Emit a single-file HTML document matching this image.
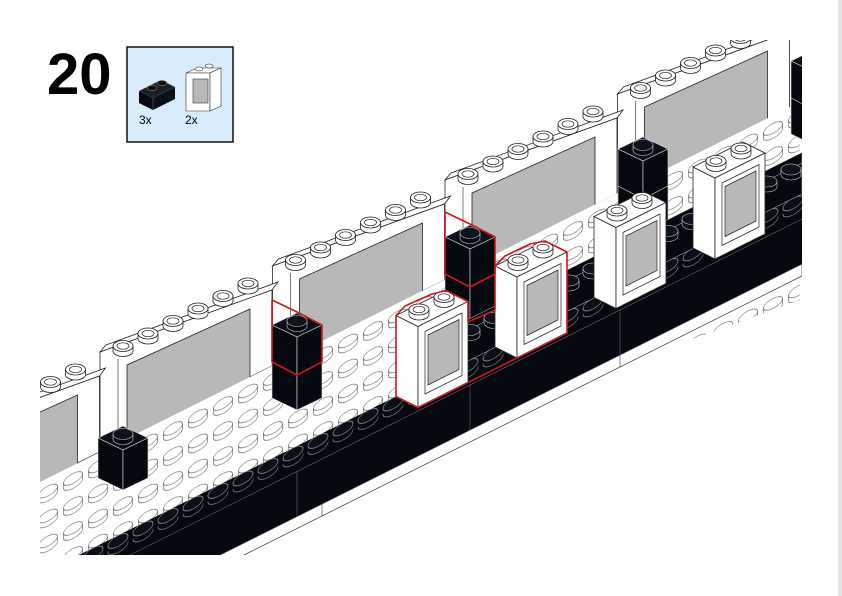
<!DOCTYPE html>
<html><head><meta charset="utf-8"><style>
html,body{margin:0;padding:0;background:#fff;width:842px;height:596px;overflow:hidden;}
svg{display:block;}
</style></head><body>
<svg width="842" height="596" viewBox="0 0 842 596" xmlns="http://www.w3.org/2000/svg">
<defs>
<clipPath id="clip"><rect x="40" y="40" width="762" height="515"/></clipPath>
<pattern id="floor" patternUnits="userSpaceOnUse" x="260.5" y="531" width="25" height="25" patternTransform="skewY(-26.57)">
<rect width="25" height="25" fill="#fff"/>
<ellipse cx="12.5" cy="14" rx="9.5" ry="5" fill="#fff" stroke="#444" stroke-width="0.55"/>
<rect x="3" y="9" width="19" height="5" fill="#fff"/>
<line x1="3" y1="9" x2="3" y2="14" stroke="#444" stroke-width="0.55"/>
<line x1="22" y1="9" x2="22" y2="14" stroke="#444" stroke-width="0.55"/>
<ellipse cx="12.5" cy="9" rx="9.5" ry="5" fill="#fff" stroke="#444" stroke-width="0.55"/>
</pattern>
<pattern id="bstud" patternUnits="userSpaceOnUse" x="280.5" y="591" width="25" height="1000" patternTransform="skewY(-26.57)">
<ellipse cx="12.5" cy="15" rx="10" ry="5.5" fill="#05080f" stroke="#aaa" stroke-width="0.6"/>
<rect x="2.5" y="9" width="20" height="6" fill="#05080f"/>
<ellipse cx="12.5" cy="9" rx="10" ry="5.5" fill="#0b1018" stroke="#bbb" stroke-width="0.6"/>
</pattern>
<g id="stud">
<path d="M-10,0 v5 a10,5.5 0 0 0 20,0 v-5" fill="#fff" stroke="#222" stroke-width="0.8"/>
<ellipse cx="0" cy="0" rx="10" ry="5.5" fill="#fff" stroke="#222" stroke-width="0.8"/>
<ellipse cx="0" cy="0" rx="6" ry="3.2" fill="#fff" stroke="#222" stroke-width="0.7"/>
</g>
<g id="bk">
<path d="M-10,0 v5 a10,5.5 0 0 0 20,0 v-5" fill="#05080f" stroke="#ccc" stroke-width="0.6"/>
<ellipse cx="0" cy="0" rx="10" ry="5.5" fill="#0d131c" stroke="#ccc" stroke-width="0.6"/>
</g>
<g id="frame">
<polygon points="0,0 172,-62 178,-70 6,-7" fill="#fff" stroke="#222" stroke-width="0.8"/>
<polygon points="0,0 172,-62 172,14 0,100" fill="#fff" stroke="#222" stroke-width="0.8"/>
<polygon points="27,13 150,-43 150,55 27,116" fill="#b8b8b8" stroke="#222" stroke-width="0.8"/>
<line x1="18" y1="7" x2="18" y2="110" stroke="#222" stroke-width="0.6"/>
<use href="#stud" x="23" y="-6"/><use href="#stud" x="48" y="-18.5"/><use href="#stud" x="73" y="-31"/>
<use href="#stud" x="98" y="-43.5"/><use href="#stud" x="123" y="-56"/><use href="#stud" x="148" y="-68.5"/>
</g>
<g id="col2">
<polygon points="-25,0 0,12 25,0 0,-12" fill="#0b1018" stroke="#ddd" stroke-width="0.6"/>
<polygon points="-25,0 0,12 0,85 -25,73" fill="#05080f" stroke="#ddd" stroke-width="0.6"/>
<polygon points="0,12 25,0 25,73 0,85" fill="#05080f" stroke="#ddd" stroke-width="0.6"/>
<polyline points="-25,37 0,50 25,37" fill="none" stroke="#ddd" stroke-width="0.6"/>
<use href="#bk" x="0" y="-4"/>
</g>
<g id="col1">
<polygon points="-25,0 0,12 25,0 0,-12" fill="#0b1018" stroke="#ddd" stroke-width="0.6"/>
<polygon points="-25,0 0,12 0,52 -25,40" fill="#05080f" stroke="#ddd" stroke-width="0.6"/>
<polygon points="0,12 25,0 25,40 0,52" fill="#05080f" stroke="#ddd" stroke-width="0.6"/>
<use href="#bk" x="0" y="-4"/>
</g>
<g id="win">
<polygon points="495,266 517,277 517,358 495,347" fill="#fff" stroke="#222" stroke-width="0.8"/>
<polygon points="495,266 517,277 567,252 545,241" fill="#fff" stroke="#222" stroke-width="0.8"/>
<polygon points="517,277 567,252 567,333 517,358" fill="#fff" stroke="#222" stroke-width="0.8"/>
<polygon points="524,282 561,263.5 561,326 524,344.5" fill="#fff" stroke="#222" stroke-width="0.7"/>
<polygon points="527,285.5 558,270 558,320 527,335.5" fill="#b8b8b8" stroke="#222" stroke-width="0.7"/>
<use href="#stud" x="518" y="260"/><use href="#stud" x="543" y="247.5"/>
</g>
</defs>
<rect width="842" height="596" fill="#fff"/>
<rect x="838" y="0" width="4" height="596" fill="#e4e4e4"/>
<text x="47" y="94" font-family="Liberation Sans, sans-serif" font-weight="bold" font-size="58" fill="#000">20</text>
<rect x="127" y="47" width="106" height="95" fill="#d8ecfb" stroke="#111" stroke-width="1.5"/>
<polygon points="139,91 161,80 175,87 153,98" fill="#1a1e26" stroke="#888" stroke-width="0.5"/>
<polygon points="139,91 153,98 153,110 139,103" fill="#05080f"/>
<polygon points="153,98 175,87 175,99 153,110" fill="#0b0f16"/>
<line x1="153" y1="98" x2="153" y2="110" stroke="#777" stroke-width="0.5"/>
<ellipse cx="152" cy="88" rx="5" ry="2.6" fill="#111" stroke="#aaa" stroke-width="0.5"/>
<ellipse cx="162" cy="83" rx="5" ry="2.6" fill="#111" stroke="#aaa" stroke-width="0.5"/>
<polygon points="186,73 210,73 221,68 197,68" fill="#fff" stroke="#333" stroke-width="0.6"/>
<polygon points="186,73 210,73 210,111 186,111" fill="#fff" stroke="#333" stroke-width="0.6"/>
<polygon points="210,73 221,68 221,106 210,111" fill="#fff" stroke="#333" stroke-width="0.6"/>
<rect x="193" y="79" width="15" height="24" fill="#b8b8b8" stroke="#333" stroke-width="0.6"/>
<ellipse cx="199" cy="69" rx="4" ry="2" fill="#fff" stroke="#333" stroke-width="0.6"/>
<ellipse cx="209" cy="66" rx="4" ry="2" fill="#fff" stroke="#333" stroke-width="0.6"/>
<text x="139" y="124" font-family="Liberation Sans, sans-serif" font-size="12" fill="#000">3x</text>
<text x="185" y="124" font-family="Liberation Sans, sans-serif" font-size="12" fill="#000">2x</text>

<g clip-path="url(#clip)">
<use href="#frame" x="617.5" y="94"/>
<use href="#frame" x="445" y="180"/>
<use href="#frame" x="272.5" y="266"/>
<use href="#frame" x="100" y="352"/>
<use href="#frame" x="-72.5" y="438"/>
<polygon points="40,482 800,102 800,300 85,560 40,560" fill="url(#floor)"/>
<use href="#col2" x="816" y="61"/>
<use href="#col2" x="643" y="149"/>
<use href="#col2" x="470" y="237"/>
<use href="#col2" x="297" y="325"/>
<use href="#col1" x="123" y="438"/>
<polygon points="40,574.5 802,193.5 802,264 40,645" fill="#05080f"/>
<polygon points="40,568 802,187 802,215 40,596" fill="url(#bstud)"/>
<line x1="40" y1="600" x2="802" y2="219" stroke="#666" stroke-width="0.6"/>
<polygon points="40,645 802,264 802,276 40,657" fill="#fff" stroke="#333" stroke-width="0.7"/>
<line x1="297" y1="471" x2="297" y2="517" stroke="#666" stroke-width="0.6"/>
<line x1="470" y1="385" x2="470" y2="430" stroke="#666" stroke-width="0.6"/>
<line x1="620" y1="310" x2="620" y2="355" stroke="#666" stroke-width="0.6"/>
<line x1="322" y1="504" x2="322" y2="516" stroke="#333" stroke-width="0.6"/>
<line x1="620" y1="355" x2="620" y2="367" stroke="#333" stroke-width="0.6"/>
<polygon points="396,355.5 802,152.5 802,194 396,397" fill="#05080f" stroke="#ccc" stroke-width="0.5"/>
<line x1="396" y1="366" x2="802" y2="163" stroke="#ccc" stroke-width="0.5"/>
<use href="#bk" x="494" y="318"/><use href="#bk" x="593" y="268.5"/><use href="#bk" x="692" y="219"/><use href="#bk" x="791" y="169.5"/>
<use href="#bk" x="470" y="330"/><use href="#bk" x="569" y="280.5"/><use href="#bk" x="668" y="231"/><use href="#bk" x="767" y="181.5"/>
<use href="#win" x="-99" y="49.5"/>
<use href="#win" x="0" y="0"/>
<use href="#win" x="99" y="-49.5"/>
<use href="#win" x="198" y="-99"/>
<g fill="none" stroke="#d0141c" stroke-width="1.6" stroke-linejoin="round">
<path d="M272,300 L297,312 L322,325 L322,362 L297,375 L272,362 Z"/>
<path d="M445,212 L470,224 L495,237 L495,274 L470,287 L445,274 Z"/>
<path d="M396,315.5 L405,306 L432,294 L446,290.5 L468,301.5 L468,322 L495,310 L495,266 L505,256 L530,244 L545,241 L567,252 L567,333 L418,407.5 L396,396.5 Z"/>
</g>
</g>
</svg>
</body></html>
